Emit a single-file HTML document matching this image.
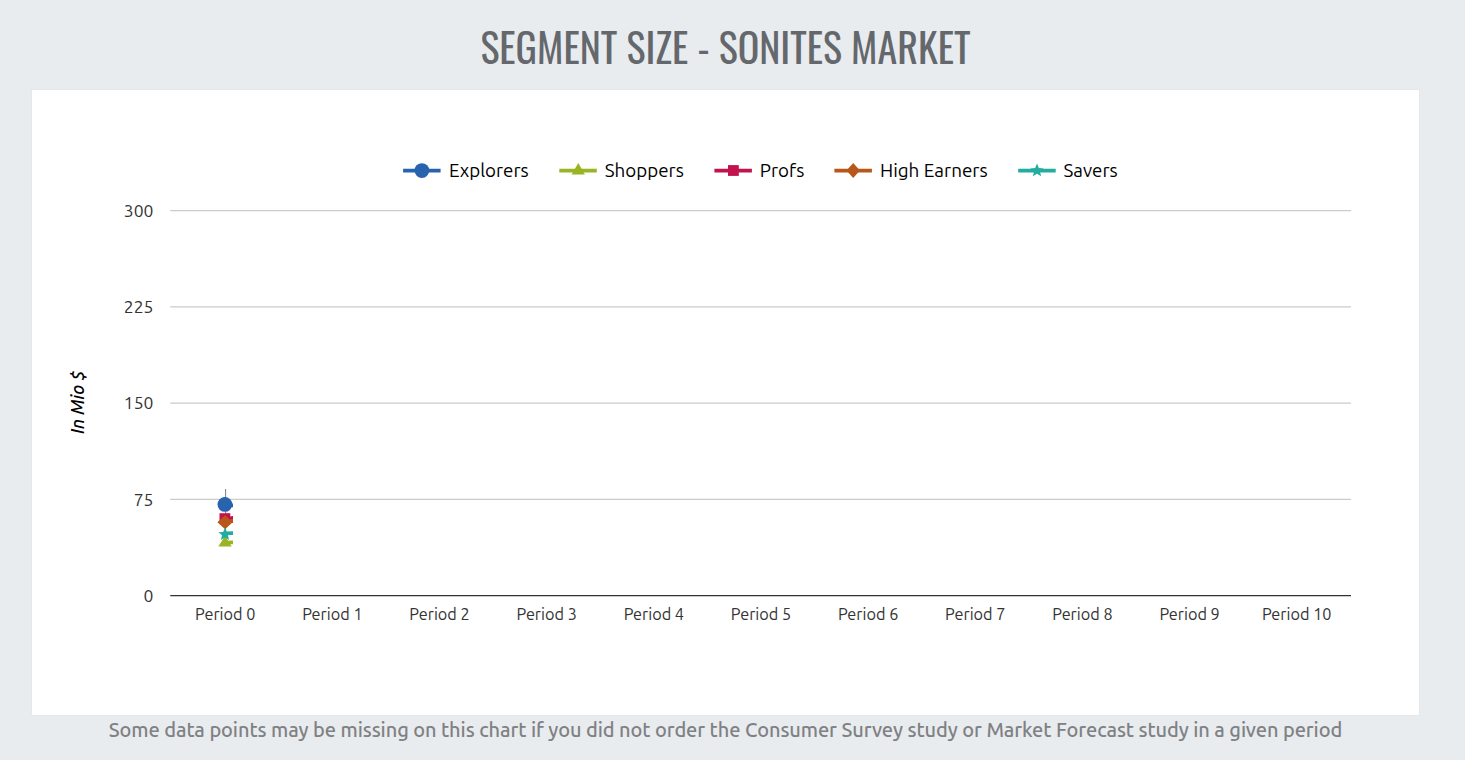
<!DOCTYPE html>
<html lang="en">
<head>
<meta charset="utf-8">
<title>Segment Size - Sonites Market</title>
<style>
html,body{margin:0;padding:0;background:#e9ecef;}
body{width:1465px;height:760px;overflow:hidden;position:relative;}
svg{position:absolute;left:0;top:0;display:block;}
.ub{font-family:Ubuntu,'Liberation Sans',Arial,sans-serif;font-size-adjust:cap-height 0.693;}
.os{font-family:Oswald,'Liberation Sans Narrow','Liberation Sans',Arial,sans-serif;font-size-adjust:cap-height 0.81;}
</style>
</head>
<body>
<svg width="1465" height="760" viewBox="0 0 1465 760">
  <defs><clipPath id="clip"><rect x="170" y="100" width="63" height="500"/></clipPath></defs>
  <rect x="0" y="0" width="1465" height="760" fill="#e9ecef"/>
  <rect x="31" y="89" width="1389" height="627" fill="#e5e8eb"/>
  <rect x="32" y="90" width="1387" height="625" fill="#ffffff"/>
  <text id="title" class="os" x="725.5" y="64" text-anchor="middle" font-size="40" fill="#64686d" textLength="490.17" lengthAdjust="spacingAndGlyphs">SEGMENT SIZE - SONITES MARKET</text>
  <g fill="#ccc">
    <rect x="170.25" y="210" width="1180.75" height="1.25"/>
    <rect x="170.25" y="306.25" width="1180.75" height="1.25"/>
    <rect x="170.25" y="402.5" width="1180.75" height="1.25"/>
    <rect x="170.25" y="498.75" width="1180.75" height="1.25"/>
  </g>
  <rect x="170.25" y="595" width="1180.75" height="1.25" fill="#333"/>
  <g class="ub" font-size="17.5" fill="#333" text-anchor="end">
    <text id="y300" x="153.4" y="217" textLength="29.62" lengthAdjust="spacingAndGlyphs">300</text>
    <text id="y225" x="153.4" y="313" textLength="29.62" lengthAdjust="spacingAndGlyphs">225</text>
    <text id="y150" x="153.4" y="409" textLength="29.62" lengthAdjust="spacingAndGlyphs">150</text>
    <text id="y75" x="153.4" y="505.5" textLength="19.75" lengthAdjust="spacingAndGlyphs">75</text>
    <text id="y0" x="153.4" y="601.5" textLength="9.88" lengthAdjust="spacingAndGlyphs">0</text>
  </g>
  <text id="ytitle" class="ub" transform="translate(84.0 402.3) rotate(-90)" text-anchor="middle" font-size="17.8" font-style="italic" font-weight="540" fill="#000" textLength="63.20" lengthAdjust="spacingAndGlyphs">In Mio $</text>
  <g class="ub" font-size="16.25" fill="#333" text-anchor="middle">
    <text id="x0" x="225.25" y="620" textLength="60.38" lengthAdjust="spacingAndGlyphs">Period 0</text>
    <text id="x1" x="332.40" y="620" textLength="60.38" lengthAdjust="spacingAndGlyphs">Period 1</text>
    <text id="x2" x="439.55" y="620" textLength="60.38" lengthAdjust="spacingAndGlyphs">Period 2</text>
    <text id="x3" x="546.70" y="620" textLength="60.38" lengthAdjust="spacingAndGlyphs">Period 3</text>
    <text id="x4" x="653.85" y="620" textLength="60.38" lengthAdjust="spacingAndGlyphs">Period 4</text>
    <text id="x5" x="761.00" y="620" textLength="60.38" lengthAdjust="spacingAndGlyphs">Period 5</text>
    <text id="x6" x="868.15" y="620" textLength="60.38" lengthAdjust="spacingAndGlyphs">Period 6</text>
    <text id="x7" x="975.30" y="620" textLength="60.38" lengthAdjust="spacingAndGlyphs">Period 7</text>
    <text id="x8" x="1082.45" y="620" textLength="60.38" lengthAdjust="spacingAndGlyphs">Period 8</text>
    <text id="x9" x="1189.60" y="620" textLength="60.38" lengthAdjust="spacingAndGlyphs">Period 9</text>
    <text id="x10" x="1296.75" y="620" textLength="69.55" lengthAdjust="spacingAndGlyphs">Period 10</text>
  </g>
  <g class="ub" font-size="18.75" fill="#000">
    <rect x="403.1" y="168.75" width="37.5" height="3.75" fill="#2863ad"/>
    <circle cx="421.9" cy="170.6" r="7.4" fill="#2863ad"/>
    <text id="l0" x="449" y="177" textLength="79.72" lengthAdjust="spacingAndGlyphs">Explorers</text>
    <rect x="559.3" y="168.75" width="37.5" height="3.75" fill="#99b523"/>
    <path d="M578.3 163.1L584.9 174.5H571.6Z" fill="#99b523"/>
    <text id="l1" x="604.8" y="177" textLength="79.03" lengthAdjust="spacingAndGlyphs">Shoppers</text>
    <rect x="714.4" y="168.75" width="37.5" height="3.75" fill="#c2134f"/>
    <rect x="728" y="165.1" width="10.8" height="10.8" fill="#c2134f"/>
    <text id="l2" x="759.8" y="177" textLength="44.56" lengthAdjust="spacingAndGlyphs">Profs</text>
    <rect x="834.4" y="168.75" width="37.5" height="3.75" fill="#b9561a"/>
    <path d="M853.2 163.1L859.9 170.6L853.2 178.1L846.5 170.6Z" fill="#b9561a"/>
    <text id="l3" x="880" y="177" textLength="107.70" lengthAdjust="spacingAndGlyphs">High Earners</text>
    <rect x="1018.2" y="168.75" width="37.5" height="3.75" fill="#22ad9f"/>
    <path d="M1037.00 163.60 L1038.82 168.09 L1043.66 168.44 L1039.95 171.56 L1041.11 176.26 L1037.00 173.70 L1032.89 176.26 L1034.05 171.56 L1030.34 168.44 L1035.18 168.09Z" fill="#22ad9f"/>
    <text id="l4" x="1063.5" y="177" textLength="54.17" lengthAdjust="spacingAndGlyphs">Savers</text>
  </g>
  <rect x="225" y="489" width="1.1" height="50" fill="#8a8a8a"/>
  <g clip-path="url(#clip)">
    <circle cx="224.9" cy="504.4" r="7.4" fill="#2863ad"/>
    <path d="M225 505.6L260 505" stroke="#2863ad" stroke-width="3.75"/>
    <path d="M225 542.5L260 541.8" stroke="#99b523" stroke-width="3.75"/>
    <path d="M225 536L231.7 546.6H218.3Z" fill="#99b523"/>
    <path d="M225 519L260 514" stroke="#c2134f" stroke-width="3.75"/>
    <rect x="219.5" y="513.2" width="10.8" height="10.8" fill="#c2134f"/>
    <path d="M225 521.5L260 519.8" stroke="#b9561a" stroke-width="3.75"/>
    <path d="M225.1 515.3L232.6 522.3L225.1 529.3L217.4 522.3Z" fill="#b9561a"/>
    <path d="M225 533.4L260 531.8" stroke="#22ad9f" stroke-width="3.75"/>
    <path d="M225.00 527.40 L226.82 531.89 L231.66 532.24 L227.95 535.36 L229.11 540.06 L225.00 537.50 L220.89 540.06 L222.05 535.36 L218.34 532.24 L223.18 531.89Z" fill="#22ad9f"/>
  </g>

  <text id="note" class="ub" x="725.5" y="737" text-anchor="middle" font-size="20" font-weight="460" letter-spacing="-0.09" fill="#7f8184" textLength="1233.34" lengthAdjust="spacingAndGlyphs">Some data points may be missing on this chart if you did not order the Consumer Survey study or Market Forecast study in a given period</text>
</svg>
</body>
</html>
